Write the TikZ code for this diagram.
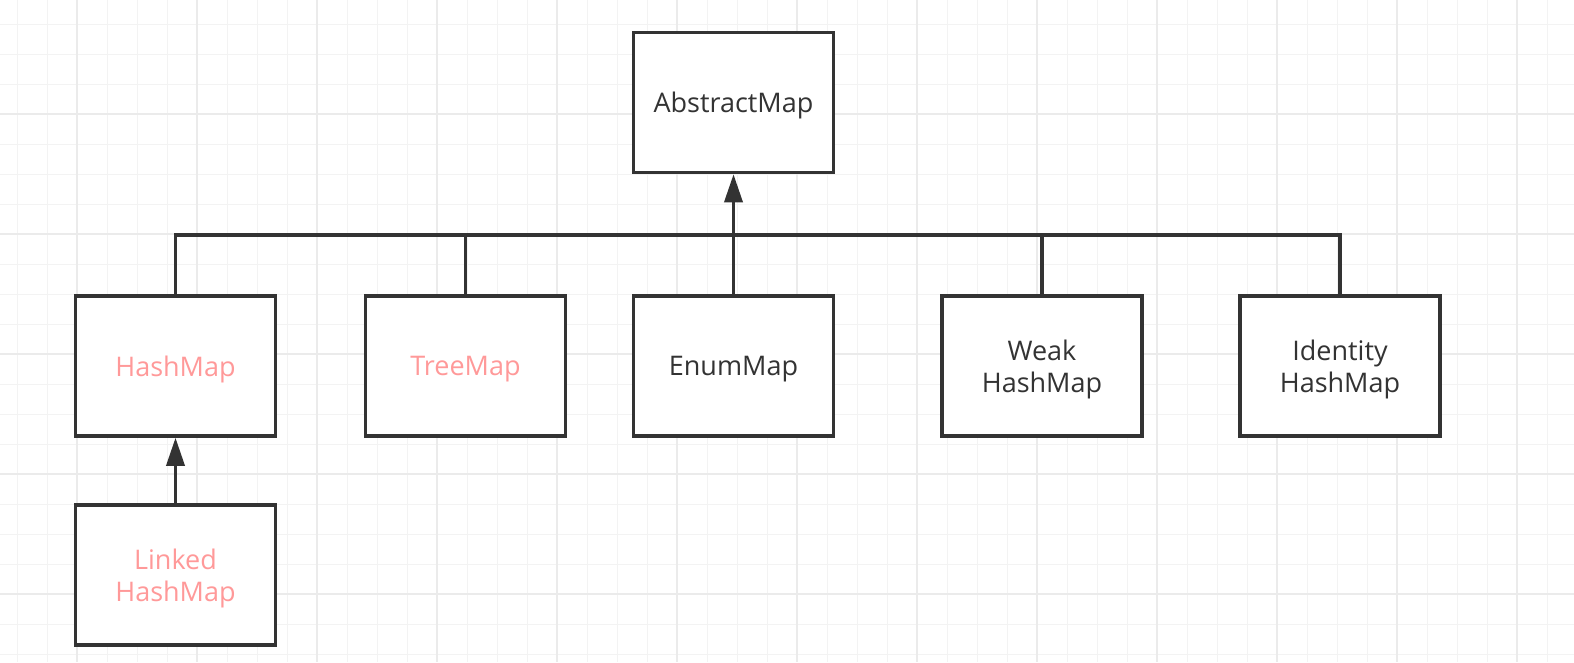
\documentclass[tikz,border=0pt]{standalone}
\usepackage{fontspec}
\setmainfont{Open Sans}
\usetikzlibrary{arrows.meta}
\definecolor{ink}{HTML}{333333}
\definecolor{pink}{HTML}{FF9999}
\definecolor{gridminor}{HTML}{F3F3F3}
\definecolor{gridmajor}{HTML}{EBEBEB}
\tikzset{
  cls/.style={draw=ink, line width=3.5pt, fill=white, minimum width=200pt, minimum height=140pt,
    inner sep=0pt, align=center, text=ink, text depth=-1pt, font=\fontsize{27}{32}\selectfont},
  hot/.style={text=pink},
  link/.style={draw=ink, line width=3.5pt},
  inherit/.style={link, -{Triangle[width=18pt,length=28pt]}}
}
\begin{document}
\begin{tikzpicture}[x=1pt,y=-1pt]
\useasboundingbox (0,0) rectangle (1574,662);
\fill[white] (0,0) rectangle (1574,662);
% grid
\foreach \x in {17,47,...,1574} \draw[gridminor, line width=1pt] (\x,0) -- (\x,662);
\foreach \y in {24,54,...,662} \draw[gridminor, line width=1pt] (0,\y) -- (1574,\y);
\foreach \x in {77,197,...,1574} \draw[gridmajor, line width=1.2pt] (\x,0) -- (\x,662);
\foreach \y in {114,234,...,662} \draw[gridmajor, line width=1.2pt] (0,\y) -- (1574,\y);
% nodes
\node[cls] (abs) at (733.5,102.5) {AbstractMap};
\node[cls, hot] (hm) at (175.5,366) {HashMap};
\node[cls, hot] (tm) at (465.5,366) {TreeMap};
\node[cls] (em) at (733.5,366) {EnumMap};
\node[cls] (wk) at (1042,366) {Weak\\HashMap};
\node[cls] (id) at (1340,366) {Identity\\HashMap};
\node[cls, hot] (lhm) at (175.5,575) {Linked\\HashMap};
\coordinate (bus) at (733.5,235);
% connectors
\draw[link] (hm.north) |- (bus);
\draw[link] (tm.north) |- (bus);
\draw[link] (wk.north) |- (bus);
\draw[link] (id.north) |- (bus);
\draw[inherit] (em.north) -- (abs.south);
\draw[inherit] (lhm.north) -- (hm.south);
\end{tikzpicture}
\end{document}
